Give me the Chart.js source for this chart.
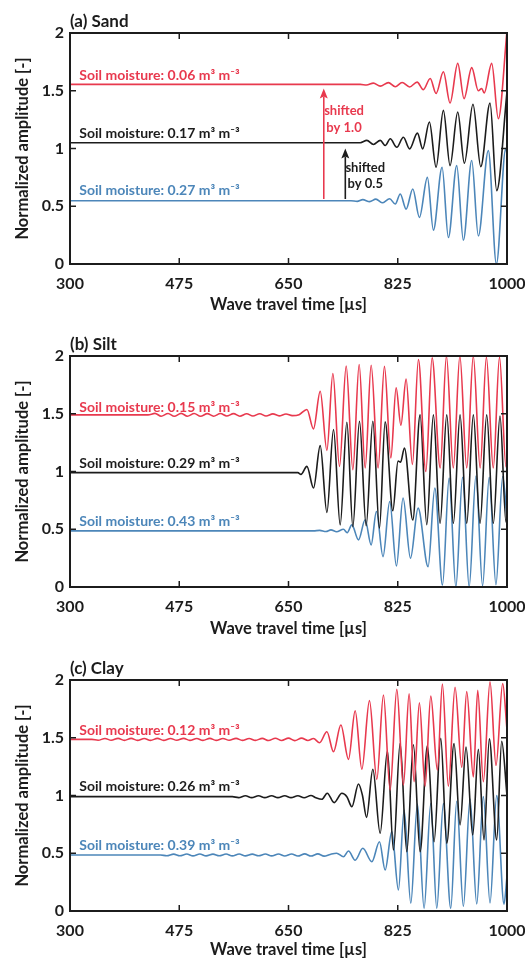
<!DOCTYPE html>
<html>
<head>
<meta charset="utf-8">
<script src="https://cdn.jsdelivr.net/npm/chart.js@4"></script>
<style>
  body { margin: 0; background: #fff; }
  .panel { position: relative; width: 525px; }
</style>
</head>
<body>
<div class="panel" style="height:323px"><canvas id="sand"></canvas></div>
<div class="panel" style="height:324px"><canvas id="silt"></canvas></div>
<div class="panel" style="height:313px"><canvas id="clay"></canvas></div>
<script>
// axis ticks
const xTicks = [300, 475, 650, 825, 1000];
const yTicks = [0, 0.5, 1, 1.5, 2];
const yTickLabels = ['0', '0.5', '1', '1.5', '2'];

// panel titles and soil moisture of each trace (top, middle, bottom)
const panelTitles = ['(a) Sand', '(b) Silt', '(c) Clay'];
const sandMoisture = ['0.06', '0.17', '0.27'];
const siltMoisture = ['0.15', '0.29', '0.43'];
const clayMoisture = ['0.12', '0.26', '0.39'];

// waveforms: [travel time (µs), normalized amplitude] read at the turning points
const sand06 = [[300,1.555],[765,1.555],[775,1.55],[786,1.566],[797,1.54],[810,1.57],[821,1.535],[832,1.572],[844,1.533],[856,1.575],[866,1.51],[877,1.606],[886.4,1.476],[898.1,1.664],[908.8,1.394],[921.1,1.737],[931.2,1.432],[943.5,1.70],[954,1.50],[959.5,1.52],[963.5,1.48],[975.5,1.737],[986.1,1.258],[1000,2.02]];
const sand17 = [[300,1.05],[765,1.05],[775.5,1.07],[786,1.035],[797,1.07],[805,1.026],[813,1.084],[823.5,1.011],[834,1.098],[844,0.997],[856.5,1.133],[865,0.997],[875.7,1.229],[886.4,0.838],[898.1,1.33],[908.8,0.852],[921.1,1.316],[931.7,0.872],[945.5,1.383],[958,0.843],[972.8,1.394],[983.5,0.635],[1000,1.49]];
const sand27 = [[300,0.548],[750,0.548],[760,0.542],[769,0.557],[780,0.54],[790,0.562],[800,0.53],[812,0.565],[821,0.519],[829,0.606],[838.4,0.475],[849.1,0.65],[859.7,0.403],[872.5,0.75],[882.1,0.293],[896,0.838],[906.1,0.229],[919.5,0.852],[930.1,0.206],[943.5,0.896],[954.1,0.243],[970.1,0.983],[983,0.0],[998,1.0],[1000,0.95]];

const silt15 = [[300,1.49],[425,1.49],[436,1.503],[446,1.479],[457,1.502],[467,1.478],[478,1.503],[488,1.479],[499,1.502],[509,1.478],[520,1.501],[530,1.479],[541,1.502],[551,1.48],[562,1.501],[572,1.479],[583,1.5],[593,1.48],[604,1.5],[614,1.481],[625,1.499],[635,1.482],[646,1.498],[656,1.484],[667,1.492],[679.5,1.537],[690,1.369],[700.8,1.695],[711.5,1.183],[721.1,1.849],[731.7,1.044],[742.4,1.912],[753.1,1.016],[763.2,1.927],[772.8,1.03],[782.4,1.92],[793.5,1.03],[803.7,1.91],[813.9,1.117],[822.4,1.725],[830,1.40],[838.4,1.80],[848.5,1.06],[858.1,1.97],[870,1.0],[880,1.985],[893,1.03],[903,2.0],[914,1.03],[924.5,2.0],[935.5,1.03],[946,2.0],[957,1.03],[967,1.99],[978,1.03],[988,1.99],[998.4,1.04],[1000,1.06]];
const silt29 = [[300,0.99],[665,0.99],[670,0.975],[679.5,1.044],[690.1,0.857],[700.8,1.224],[711.5,0.645],[722.1,1.363],[732.8,0.538],[743.5,1.426],[753.1,0.523],[763.7,1.435],[774.4,0.53],[785.1,1.435],[795.7,0.51],[804.8,1.43],[817.1,0.66],[825.5,1.09],[829.5,1.08],[835.7,1.204],[849.1,0.58],[860.8,1.49],[871.5,0.54],[882.1,1.49],[892.8,0.55],[903.5,1.49],[914.1,0.55],[924.8,1.49],[935.5,0.55],[946.1,1.49],[956.8,0.55],[967.5,1.49],[978.1,0.55],[988.8,1.48],[998.4,0.56],[1000,0.6]];
const silt43 = [[300,0.486],[690,0.486],[700,0.49],[710,0.48],[718,0.495],[727,0.478],[738,0.5],[744,0.47],[751.5,0.538],[762.1,0.408],[772.8,0.582],[782.4,0.365],[790.8,0.654],[801.4,0.263],[812.1,0.74],[822.9,0.182],[833.5,0.77],[845.4,0.249],[857.6,0.683],[873.6,0.176],[884.4,0.857],[896.7,0.017],[907.3,0.943],[918.1,0.0],[928.8,0.95],[939.4,0.0],[950.2,0.96],[960.9,0.01],[971.5,0.95],[982.3,0.02],[993.1,0.957],[1000,0.6]];

const clay12 = [[300,1.486],[335,1.486],[345,1.478],[356,1.494],[366,1.478],[377,1.495],[387,1.477],[398,1.495],[408,1.477],[419,1.494],[429,1.477],[440,1.495],[450,1.477],[461,1.494],[471,1.478],[482,1.495],[492,1.477],[503,1.494],[513,1.477],[524,1.495],[534,1.477],[545,1.494],[555,1.478],[566,1.495],[576,1.477],[587,1.494],[597,1.477],[608,1.495],[618,1.476],[629,1.496],[639,1.476],[650,1.497],[660,1.475],[671,1.497],[681,1.476],[690,1.493],[699.7,1.457],[711.5,1.552],[722.1,1.379],[733.9,1.61],[746.1,1.313],[756.8,1.734],[767.5,1.227],[779.7,1.821],[791.5,1.14],[802.1,1.87],[812.8,1.048],[823.5,1.919],[834.1,1.091],[843.2,1.88],[851.2,1.12],[859.7,1.803],[868.8,1.08],[877.9,1.86],[888.5,1.22],[896.5,1.965],[906.1,1.08],[916.8,1.937],[927.5,1.244],[935.5,1.899],[946.1,1.16],[953.1,1.91],[962.1,1.12],[972.8,1.985],[982.4,1.26],[993.1,1.97],[1000,1.567]];
const clay26 = [[300,0.99],[560,0.99],[570,0.982],[581,0.998],[591,0.982],[602,0.998],[612,0.982],[623,0.998],[633,0.982],[644,0.998],[654,0.982],[665,0.998],[675,0.98],[686,1.0],[694,0.98],[703.5,0.967],[712,1.02],[723.2,0.938],[735.5,1.019],[743.5,0.99],[751.5,0.903],[762.1,1.10],[768.5,1.0],[775,0.811],[785.1,1.227],[796.8,0.673],[808.5,1.388],[818.1,0.528],[828.8,1.452],[839.5,0.514],[850.1,1.44],[860.8,0.514],[872.5,1.43],[883.2,0.6],[893.9,1.495],[903.5,0.586],[915.2,1.45],[924.8,0.745],[934.4,1.42],[945.1,0.658],[954.1,1.40],[963.2,0.615],[971.7,1.49],[983.5,0.615],[991.5,1.47],[1000,1.0]];
const clay39 = [[300,0.485],[445,0.485],[455,0.478],[466,0.492],[476,0.478],[487,0.493],[497,0.477],[508,0.493],[518,0.477],[529,0.492],[539,0.478],[550,0.493],[560,0.477],[571,0.493],[581,0.477],[592,0.492],[602,0.478],[613,0.493],[623,0.477],[634,0.494],[644,0.476],[655,0.494],[665,0.476],[676,0.495],[686,0.476],[697,0.495],[707,0.475],[716.8,0.49],[727,0.5],[738.1,0.47],[746.1,0.52],[756.8,0.44],[769.1,0.543],[783.5,0.427],[795.7,0.6],[804.8,0.355],[815.5,0.687],[826.1,0.182],[835.2,0.874],[845.9,0.067],[856.5,0.926],[867.2,0.023],[877.9,0.93],[887.5,0.023],[898.1,0.93],[909.9,0.023],[919.5,0.95],[930.1,0.04],[940.8,0.97],[951.5,0.06],[962.1,0.99],[972.8,0.07],[983.5,1.0],[995.2,0.06],[1000,0.3]];

const RED = '#e8394e';
const BLACK = '#1c1c1c';
const BLUE = '#4c86b9';
const FONT = 'Lato, "Open Sans", sans-serif';
Chart.defaults.font.family = FONT;
Chart.defaults.color = '#1c1c1c';

// black box with inward tick marks, plus the panel title
function framePlugin(title) {
  return {
    id: 'frame',
    afterDraw(chart) {
      const {ctx, chartArea: a, scales: {x, y}} = chart;
      ctx.save();
      ctx.strokeStyle = '#1c1c1c';
      ctx.lineWidth = 2;
      ctx.strokeRect(a.left, a.top, a.right - a.left, a.bottom - a.top);
      ctx.lineWidth = 1.5;
      ctx.beginPath();
      xTicks.slice(1, -1).forEach(v => {
        const px = x.getPixelForValue(v);
        ctx.moveTo(px, a.bottom); ctx.lineTo(px, a.bottom - 6);
        ctx.moveTo(px, a.top); ctx.lineTo(px, a.top + 6);
      });
      yTicks.slice(1, -1).forEach(v => {
        const py = y.getPixelForValue(v);
        ctx.moveTo(a.left, py); ctx.lineTo(a.left + 6, py);
        ctx.moveTo(a.right, py); ctx.lineTo(a.right - 6, py);
      });
      ctx.stroke();
      ctx.fillStyle = '#1c1c1c';
      ctx.font = 'bold 17px ' + FONT;
      ctx.textBaseline = 'middle';
      ctx.fillText(title, a.left, a.top - 11);
      ctx.restore();
    }
  };
}

// soil moisture labels, shift arrows and their notes
function notesPlugin(n) {
  return {
    id: 'notes',
    afterDatasetsDraw(chart) {
      const {ctx, scales: {x, y}} = chart;
      ctx.save();
      ctx.textBaseline = 'middle';
      ctx.font = 'bold 14px ' + FONT;
      n.labels.forEach(l => {
        ctx.fillStyle = l.color;
        ctx.fillText('Soil moisture: ' + l.text + ' m\u00b3 m\u207b\u00b3', x.getPixelForValue(315), y.getPixelForValue(l.y));
      });
      (n.arrows || []).forEach(ar => {
        const px = x.getPixelForValue(ar.x);
        const p0 = y.getPixelForValue(ar.y0);
        const p1 = y.getPixelForValue(ar.y1);
        ctx.strokeStyle = ar.color;
        ctx.fillStyle = ar.color;
        ctx.lineWidth = 1.6;
        ctx.beginPath();
        ctx.moveTo(px, p0); ctx.lineTo(px, p1 + 8);
        ctx.stroke();
        ctx.beginPath();
        ctx.moveTo(px, p1); ctx.lineTo(px - 4, p1 + 10); ctx.lineTo(px, p1 + 8); ctx.lineTo(px + 4, p1 + 10);
        ctx.closePath();
        ctx.fill();
      });
      ctx.font = 'bold 13px ' + FONT;
      ctx.textAlign = 'center';
      (n.texts || []).forEach(t => {
        ctx.fillStyle = t.color;
        ctx.fillText(t.text, x.getPixelForValue(t.x), y.getPixelForValue(t.y));
      });
      ctx.restore();
    }
  };
}

function makePanel(id, title, traces, notes, height) {
  return new Chart(document.getElementById(id), {
    type: 'line',
    data: {
      datasets: traces.map(tr => ({
        data: tr.points.map(p => ({x: p[0], y: p[1]})),
        borderColor: tr.color,
        borderWidth: 1.6,
        pointRadius: 0,
        fill: false,
        cubicInterpolationMode: 'monotone'
      }))
    },
    options: {
      responsive: true,
      maintainAspectRatio: false,
      animation: false,
      layout: {padding: {top: 33, right: 18, bottom: 0, left: 0}},
      plugins: {legend: {display: false}, tooltip: {enabled: false}},
      scales: {
        x: {
          type: 'linear', min: 300, max: 1000,
          grid: {display: false, drawTicks: false},
          border: {display: false},
          afterBuildTicks: s => { s.ticks = xTicks.map(v => ({value: v})); },
          afterFit: s => { s.height = height - 264; s.paddingLeft = 0; s.paddingRight = 0; },
          ticks: {padding: 10, maxRotation: 0, font: {size: 16, weight: 'bold'}, callback: v => String(v)},
          title: {display: true, text: 'Wave travel time [\u00b5s]', font: {size: 16.5, weight: 'bold'}, padding: {top: 0, bottom: height > 320 ? 8 : 0}}
        },
        y: {
          min: 0, max: 2,
          grid: {display: false, drawTicks: false},
          border: {display: false},
          afterBuildTicks: s => { s.ticks = yTicks.map(v => ({value: v})); },
          afterFit: s => { s.width = 70; },
          ticks: {padding: 6, font: {size: 16, weight: 'bold'}, callback: (v, i) => yTickLabels[i]},
          title: {display: true, text: 'Normalized amplitude [-]', font: {size: 16.5, weight: 'bold'}, padding: {top: 13, bottom: 0}}
        }
      }
    },
    plugins: [framePlugin(title), notesPlugin(notes)]
  });
}

makePanel('sand', panelTitles[0],
  [{points: sand06, color: RED}, {points: sand17, color: BLACK}, {points: sand27, color: BLUE}],
  {
    labels: [
      {text: sandMoisture[0], y: 1.63, color: RED},
      {text: sandMoisture[1], y: 1.13, color: BLACK},
      {text: sandMoisture[2], y: 0.635, color: BLUE}
    ],
    arrows: [
      {x: 706.5, y0: 0.563, y1: 1.519, color: RED},
      {x: 741, y0: 0.563, y1: 1.0, color: BLACK}
    ],
    texts: [
      {text: 'shifted', x: 739, y: 1.33, color: RED},
      {text: 'by 1.0', x: 739, y: 1.18, color: RED},
      {text: 'shifted', x: 773, y: 0.837, color: BLACK},
      {text: 'by 0.5', x: 773, y: 0.696, color: BLACK}
    ]
  }, 323);

makePanel('silt', panelTitles[1],
  [{points: silt15, color: RED}, {points: silt29, color: BLACK}, {points: silt43, color: BLUE}],
  {
    labels: [
      {text: siltMoisture[0], y: 1.556, color: RED},
      {text: siltMoisture[1], y: 1.068, color: BLACK},
      {text: siltMoisture[2], y: 0.564, color: BLUE}
    ]
  }, 324);

makePanel('clay', panelTitles[2],
  [{points: clay12, color: RED}, {points: clay26, color: BLACK}, {points: clay39, color: BLUE}],
  {
    labels: [
      {text: clayMoisture[0], y: 1.567, color: RED},
      {text: clayMoisture[1], y: 1.076, color: BLACK},
      {text: clayMoisture[2], y: 0.57, color: BLUE}
    ]
  }, 313);
</script>
</body>
</html>
